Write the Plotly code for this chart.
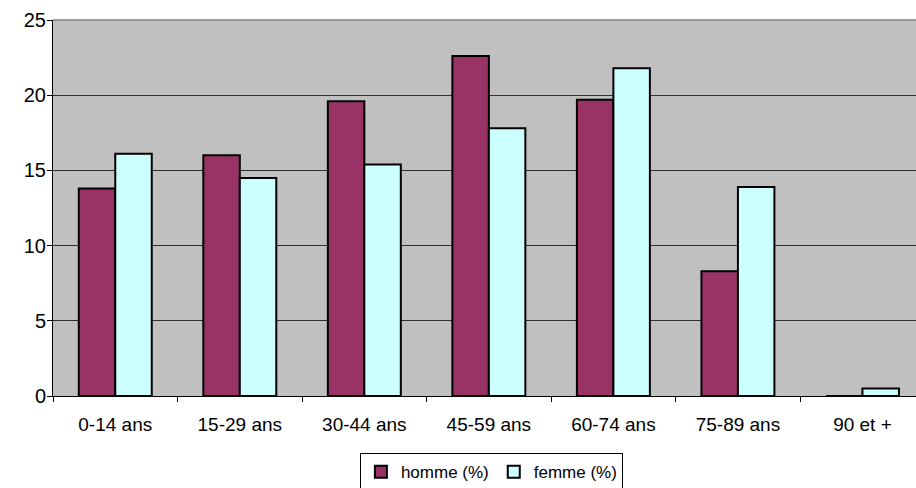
import plotly.graph_objects as go

categories = ["0-14 ans", "15-29 ans", "30-44 ans", "45-59 ans", "60-74 ans", "75-89 ans", "90 et +"]
homme = [13.8, 16.0, 19.6, 22.6, 19.7, 8.3, 0.0]
femme = [16.1, 14.5, 15.4, 17.8, 21.8, 13.9, 0.5]
series_names = ["homme (%)", "femme (%)"]
y_ticks = [0, 5, 10, 15, 20, 25]
title_text = "Répartition de la population par âge"

FONT = "Liberation Sans, Arial, sans-serif"

fig = go.Figure()
fig.add_trace(go.Bar(x=categories, y=homme, name=series_names[0],
                     marker=dict(color="#993366", line=dict(color="black", width=2))))
fig.add_trace(go.Bar(x=categories, y=femme, name=series_names[1],
                     marker=dict(color="#CCFFFF", line=dict(color="black", width=2))))

fig.update_layout(
    width=916, height=488,
    margin=dict(l=53, r=0, t=20, b=92, autoexpand=False),
    paper_bgcolor="white", plot_bgcolor="#C0C0C0",
    barmode="group", bargap=0.414, bargroupgap=0,
    font=dict(family=FONT, size=18, color="black"),
    showlegend=True,
    legend=dict(orientation="h", x=0.508, xanchor="center", y=-0.152, yanchor="top",
                bordercolor="black", borderwidth=1, bgcolor="white",
                font=dict(size=17), itemwidth=30, tracegroupgap=0),
    xaxis=dict(type="category", range=[-0.5, 6.43], showgrid=False, automargin=False,
               showline=True, linecolor="black", linewidth=1,
               ticks="outside", tickson="boundaries", ticklen=5, tickcolor="black",
               tickfont=dict(size=19), ticklabelstandoff=11),
    yaxis=dict(range=[0, 25], tickvals=y_ticks, showgrid=True, gridcolor="#303030", gridwidth=1,
               showline=True, linecolor="black", linewidth=1, zeroline=False, automargin=False,
               ticks="outside", ticklen=5, tickcolor="black",
               tickfont=dict(size=20), ticklabelstandoff=-3),
    shapes=[dict(type="line", xref="paper", yref="paper", x0=0, x1=1, y0=1, y1=1,
                 line=dict(color="#808080", width=1.5), layer="above")],
    annotations=[dict(text=title_text, xref="paper", yref="paper",
                      x=(505 - 53) / 863, xanchor="center",
                      y=1 + 21 / 376, yanchor="bottom", showarrow=False,
                      font=dict(size=18))],
)

fig.write_html("out.html", config={"displayModeBar": False},
               post_script="document.body.style.margin='0';document.body.style.overflow='hidden';")
